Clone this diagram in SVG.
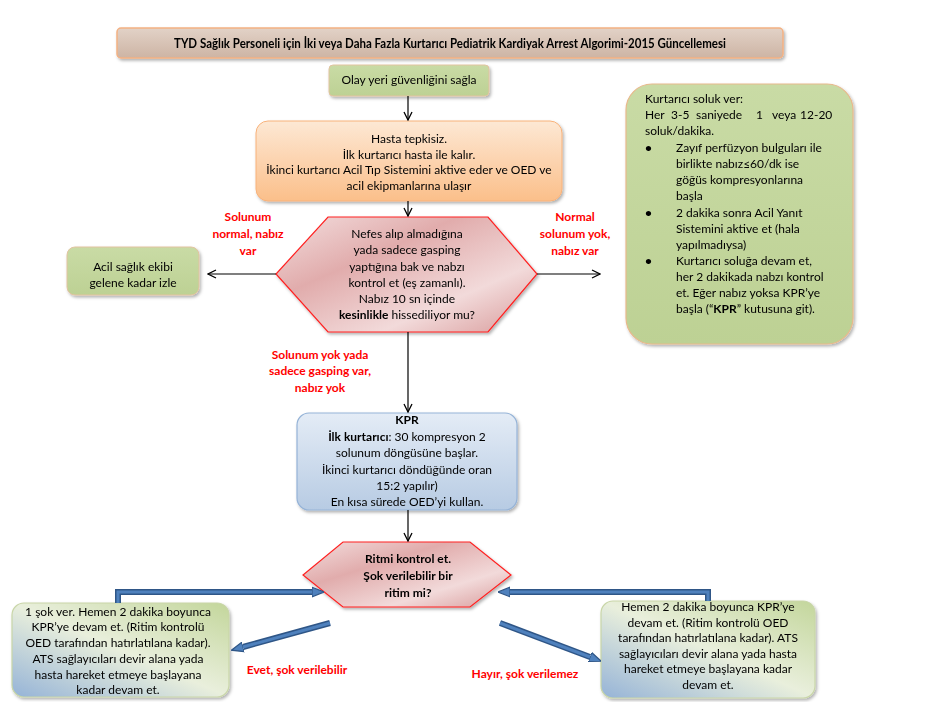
<svg xmlns="http://www.w3.org/2000/svg" width="942" height="702" viewBox="0 0 942 702">
<defs>
  <filter id="sh" x="-10%" y="-10%" width="125%" height="130%">
    <feDropShadow dx="1.5" dy="2" stdDeviation="1.5" flood-color="#000" flood-opacity="0.3"/>
  </filter>
  <linearGradient id="gTitle" x1="0" y1="0" x2="0" y2="1">
    <stop offset="0" stop-color="#e2d2c7"/>
    <stop offset="1" stop-color="#cdb4a4"/>
  </linearGradient>
  <linearGradient id="gGreen" x1="0" y1="0" x2="0" y2="1">
    <stop offset="0" stop-color="#c9dba5"/>
    <stop offset="1" stop-color="#bdd194"/>
  </linearGradient>
  <linearGradient id="gOrange" x1="0" y1="0" x2="0" y2="1">
    <stop offset="0" stop-color="#fde8d4"/>
    <stop offset="1" stop-color="#fbbf8a"/>
  </linearGradient>
  <linearGradient id="gRed" x1="0" y1="0" x2="1" y2="1">
    <stop offset="0" stop-color="#f3dede"/>
    <stop offset="0.35" stop-color="#e1acac"/>
    <stop offset="0.7" stop-color="#f2dada"/>
    <stop offset="1" stop-color="#d89a9a"/>
  </linearGradient>
  <linearGradient id="gBlue" x1="0" y1="0" x2="0" y2="1">
    <stop offset="0" stop-color="#e4ecf6"/>
    <stop offset="1" stop-color="#b7cbe3"/>
  </linearGradient>
  <linearGradient id="gMix" x1="1" y1="0" x2="0" y2="1">
    <stop offset="0" stop-color="#c3d69b"/>
    <stop offset="0.5" stop-color="#e9efdc"/>
    <stop offset="1" stop-color="#95b3d7"/>
  </linearGradient>
  <marker id="chev" viewBox="0 0 10 10" refX="9" refY="5" markerWidth="10" markerHeight="10" markerUnits="userSpaceOnUse" orient="auto">
    <path d="M1,1 L9,5 L1,9" fill="none" stroke="#000" stroke-width="1.3"/>
  </marker>
  <marker id="blu" viewBox="0 0 10 10" refX="0" refY="5" markerWidth="12" markerHeight="12" markerUnits="userSpaceOnUse" orient="auto">
    <path d="M0,1 L10,5 L0,9 z" fill="#4f81bd" stroke="#2f5687" stroke-width="1"/>
  </marker>
</defs>
<style>
  text { font-family: Lato, "Liberation Sans", sans-serif; font-size: 12px; fill: #000; }
  .c { text-anchor: middle; }
  .b { font-weight: bold; }
  .red { fill: #ff0000; font-weight: bold; }
  .blk { fill: none; stroke: #000; stroke-width: 1.2; }
  .bo { fill: none; stroke: #2f5687; stroke-width: 6; }
  .bi { fill: none; stroke: #4f81bd; stroke-width: 3; }
</style>
<rect width="942" height="702" fill="#fff"/>

<g id="title" filter="url(#sh)">
  <rect x="117" y="28" width="666" height="30" rx="4" fill="url(#gTitle)" stroke="#f4b183" stroke-width="1.5"/>
  <text x="450" y="48" class="c b" style="font-size:13px" textLength="552" lengthAdjust="spacingAndGlyphs">TYD Sağlık Personeli için İki veya Daha Fazla Kurtarıcı Pediatrik Kardiyak Arrest Algorimi-2015 Güncellemesi</text>
</g>

<g id="n-olay" filter="url(#sh)">
  <rect x="329" y="65" width="160" height="31" rx="4" fill="url(#gGreen)" stroke="#e2c3a0" stroke-width="1"/>
  <text x="409" y="84" class="c">Olay yeri güvenliğini sağla</text>
</g>

<g id="n-hasta" filter="url(#sh)">
  <rect x="256" y="121" width="306" height="80" rx="12" fill="url(#gOrange)" stroke="#f8b27b" stroke-width="1"/>
  <text x="409" y="143" class="c">Hasta tepkisiz.</text>
  <text x="409" y="159" class="c">İlk kurtarıcı hasta ile kalır.</text>
  <text x="409" y="174" class="c">İkinci kurtarıcı Acil Tıp Sistemini aktive eder ve OED ve</text>
  <text x="409" y="190" class="c">acil ekipmanlarına ulaşır</text>
</g>

<g id="n-nefes" filter="url(#sh)">
  <polygon points="328,217 488,217 537,274 488,332 328,332 276,274" fill="url(#gRed)" stroke="#ff2020" stroke-width="1.2"/>
  <text x="407" y="238" class="c">Nefes alıp almadığına</text>
  <text x="407" y="254" class="c">yada sadece gasping</text>
  <text x="407" y="271" class="c">yaptığına bak ve nabzı</text>
  <text x="407" y="287" class="c">kontrol et (eş zamanlı).</text>
  <text x="407" y="303" class="c">Nabız 10 sn içinde</text>
  <text x="407" y="319" class="c"><tspan class="b">kesinlikle</tspan> hissediliyor mu?</text>
</g>

<g id="n-izle" filter="url(#sh)">
  <rect x="67" y="247" width="132" height="48" rx="8" fill="url(#gGreen)" stroke="#e2c3a0" stroke-width="1"/>
  <text x="133" y="271" class="c">Acil sağlık ekibi</text>
  <text x="133" y="287" class="c">gelene kadar izle</text>
</g>

<g id="n-soluk" filter="url(#sh)">
  <rect x="626" y="84" width="227" height="260" rx="26" fill="url(#gGreen)" stroke="#e8b98c" stroke-width="1.2"/>
  <text x="645" y="103">Kurtarıcı soluk ver:</text>
  <text y="119"><tspan x="645">Her</tspan><tspan x="671">3-5</tspan><tspan x="696">saniyede</tspan><tspan x="756">1</tspan><tspan x="772">veya</tspan><tspan x="800">12-20</tspan></text>
  <text x="645" y="135">soluk/dakika.</text>
  <text x="645" y="152" class="b">•</text>
  <text x="676" y="152">Zayıf perfüzyon bulguları ile</text>
  <text x="676" y="168">birlikte nabız≤60/dk ise</text>
  <text x="676" y="184">göğüs kompresyonlarına</text>
  <text x="676" y="200">başla</text>
  <text x="645" y="217" class="b">•</text>
  <text x="676" y="217">2 dakika sonra Acil Yanıt</text>
  <text x="676" y="233">Sistemini aktive et (hala</text>
  <text x="676" y="249">yapılmadıysa)</text>
  <text x="645" y="265" class="b">•</text>
  <text x="676" y="265">Kurtarıcı soluğa devam et,</text>
  <text x="676" y="281">her 2 dakikada nabzı kontrol</text>
  <text x="676" y="297">et. Eğer nabız yoksa KPR’ye</text>
  <text x="676" y="313">başla  (“<tspan class="b">KPR</tspan>” kutusuna git).</text>
</g>

<g id="n-kpr" filter="url(#sh)">
  <rect x="297" y="413" width="220" height="97" rx="12" fill="url(#gBlue)" stroke="#95b3d7" stroke-width="1.2"/>
  <text x="407" y="424" class="c b">KPR</text>
  <text x="407" y="441" class="c"><tspan class="b">İlk kurtarıcı</tspan>: 30 kompresyon 2</text>
  <text x="407" y="457" class="c">solunum döngüsüne başlar.</text>
  <text x="407" y="474" class="c">İkinci kurtarıcı döndüğünde oran</text>
  <text x="407" y="490" class="c">15:2 yapılır)</text>
  <text x="407" y="506" class="c">En kısa sürede OED’yi kullan.</text>
</g>

<g id="n-ritim" filter="url(#sh)">
  <polygon points="343,542 470,542 511,575 470,607 343,607 303,575" fill="url(#gRed)" stroke="#ff2020" stroke-width="1.2"/>
  <text x="408" y="563" class="c b">Ritmi kontrol et.</text>
  <text x="408" y="580" class="c b">Şok verilebilir bir</text>
  <text x="408" y="597" class="c b">ritim mi?</text>
</g>

<g id="n-sok" filter="url(#sh)">
  <rect x="12" y="603" width="217" height="94" rx="12" fill="url(#gMix)" stroke="#c9d6a8" stroke-width="1.2"/>
  <text x="118" y="616" class="c">1 şok ver. Hemen 2 dakika boyunca</text>
  <text x="118" y="631" class="c">KPR’ye devam et. (Ritim kontrolü</text>
  <text x="118" y="647" class="c">OED tarafından hatırlatılana kadar).</text>
  <text x="118" y="663" class="c">ATS sağlayıcıları devir alana yada</text>
  <text x="118" y="679" class="c">hasta hareket etmeye başlayana</text>
  <text x="118" y="694" class="c">kadar devam et.</text>
</g>

<g id="n-devam" filter="url(#sh)">
  <rect x="601" y="601" width="214" height="97" rx="12" fill="url(#gMix)" stroke="#c9d6a8" stroke-width="1.2"/>
  <text x="708" y="611" class="c">Hemen 2 dakika boyunca KPR’ye</text>
  <text x="708" y="627" class="c">devam et. (Ritim kontrolü OED</text>
  <text x="708" y="642" class="c">tarafından hatırlatılana kadar). ATS</text>
  <text x="708" y="658" class="c">sağlayıcıları devir alana yada hasta</text>
  <text x="708" y="673" class="c">hareket etmeye başlayana kadar</text>
  <text x="708" y="689" class="c">devam et.</text>
</g>

<g id="connectors">
  <line x1="408" y1="96" x2="408" y2="120" class="blk" marker-end="url(#chev)"/>
  <line x1="408" y1="201" x2="408" y2="216" class="blk" marker-end="url(#chev)"/>
  <line x1="276" y1="274" x2="208" y2="274" class="blk" marker-end="url(#chev)"/>
  <line x1="537" y1="274" x2="600" y2="274" class="blk" marker-end="url(#chev)"/>
  <line x1="408" y1="332" x2="408" y2="412" class="blk" marker-end="url(#chev)"/>
  <line x1="408" y1="510" x2="408" y2="541" class="blk" marker-end="url(#chev)"/>

  <path d="M118,603 V592 H312" class="bo" marker-end="url(#blu)"/>
  <path d="M118,603 V592 H312" class="bi"/>
  <path d="M708,601 V592 H510" class="bo" marker-end="url(#blu)"/>
  <path d="M708,601 V592 H510" class="bi"/>
  <path d="M330,623 L243,647" class="bo" marker-end="url(#blu)"/>
  <path d="M330,623 L243,647" class="bi"/>
  <path d="M500,623 L590,657" class="bo" marker-end="url(#blu)"/>
  <path d="M500,623 L590,657" class="bi"/>

  <text x="248" y="221" class="c red">Solunum</text>
  <text x="248" y="238" class="c red">normal, nabız</text>
  <text x="248" y="255" class="c red">var</text>
  <text x="575" y="221" class="c red">Normal</text>
  <text x="575" y="238" class="c red">solunum yok,</text>
  <text x="575" y="255" class="c red">nabız var</text>
  <text x="320" y="359" class="c red">Solunum yok yada</text>
  <text x="320" y="375" class="c red">sadece gasping var,</text>
  <text x="320" y="392" class="c red">nabız yok</text>
  <text x="297" y="674" class="c red">Evet, şok verilebilir</text>
  <text x="525" y="678" class="c red">Hayır, şok verilemez</text>
</g>
</svg>
